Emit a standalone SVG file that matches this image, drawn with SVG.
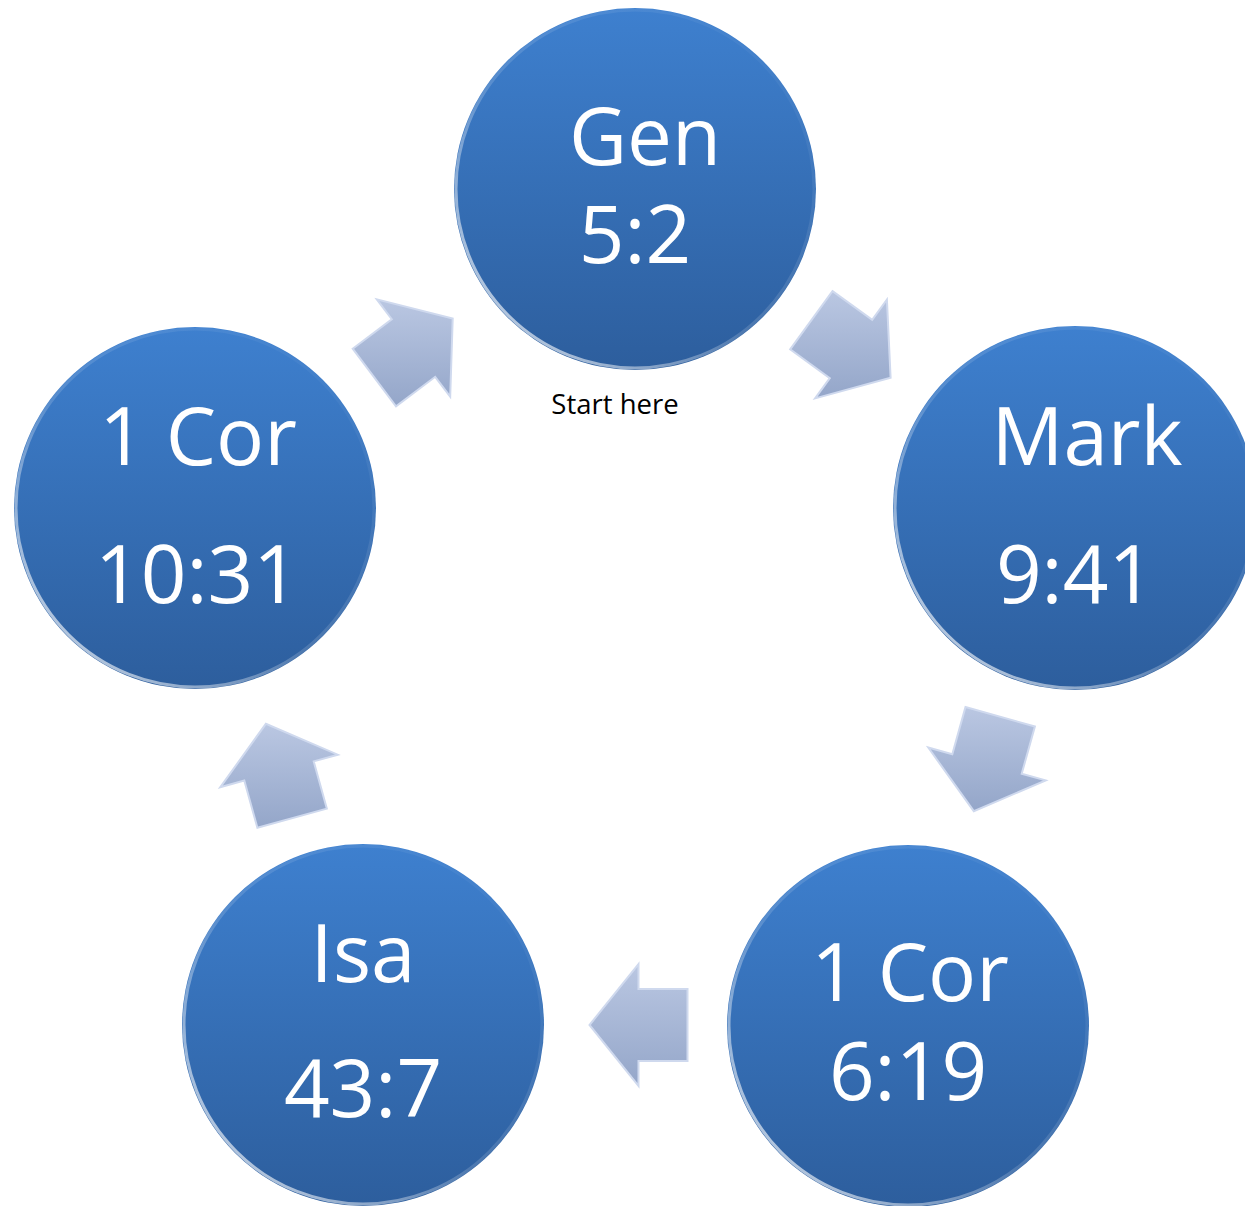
<svg xmlns="http://www.w3.org/2000/svg" width="1245" height="1206" viewBox="0 0 1245 1206">
<defs>
<linearGradient id="cfill" x1="0" y1="0" x2="0" y2="1">
<stop offset="0" stop-color="#3e80cf"/>
<stop offset="1" stop-color="#2d5e9d"/>
</linearGradient>
<linearGradient id="crim" x1="1" y1="0" x2="0" y2="1">
<stop offset="0" stop-color="#ffffff" stop-opacity="0"/>
<stop offset="0.55" stop-color="#ffffff" stop-opacity="0.15"/>
<stop offset="1" stop-color="#ffffff" stop-opacity="0.85"/>
</linearGradient>
<linearGradient id="afill" x1="0" y1="0" x2="0" y2="1">
<stop offset="0" stop-color="#bac7e2"/>
<stop offset="1" stop-color="#94a6c9"/>
</linearGradient>
<style>
.node circle.body{fill:url(#cfill);}
.node circle.rim{fill:none;stroke:url(#crim);stroke-width:3;}
.node text{font-family:"Open Sans","Noto Sans",sans-serif;font-size:80px;fill:#ffffff;text-anchor:middle;}
.arrow{fill:url(#afill);stroke:#cfd9ee;stroke-width:2;stroke-linejoin:miter;}
.label{font-family:"Open Sans","Noto Sans",sans-serif;font-size:27.5px;fill:#000000;text-anchor:middle;}
</style>
</defs>
<g id="connectors">
<polygon class="arrow" points="832.5,291.1 872.2,319.9 886.9,299.6 890.6,377.8 815.1,398.4 829.8,378.1 790.2,349.3"/>
<polygon class="arrow" points="1034.9,726.5 1021.7,773.7 1045.7,780.4 973.8,811.2 928.3,747.6 952.3,754.3 965.5,707.1"/>
<polygon class="arrow" points="687.5,1061 638.5,1061 638.5,1086 589.5,1025 638.5,964 638.5,989 687.5,989"/>
<polygon class="arrow" points="257.4,827.8 244.3,780.6 220.2,787.3 265.9,723.8 337.8,754.7 313.7,761.4 326.8,808.6"/>
<polygon class="arrow" points="352.7,348.7 391.8,319.2 376.8,299.3 452.7,318.5 450.2,396.7 435.2,376.8 396.0,406.3"/>
</g>
<g id="node-gen" class="node">
<circle class="body" cx="635" cy="189" r="181"/>
<circle class="rim" cx="635" cy="189" r="179"/>
<text x="645" y="165">Gen</text>
<text x="635" y="263">5:2</text>
</g>
<g id="node-mark" class="node">
<circle class="body" cx="1075" cy="508" r="182"/>
<circle class="rim" cx="1075" cy="508" r="180"/>
<text x="1087" y="465">Mark</text>
<text x="1075" y="603">9:41</text>
</g>
<g id="node-1cor619" class="node">
<circle class="body" cx="908" cy="1026" r="181"/>
<circle class="rim" cx="908" cy="1026" r="179"/>
<text x="910" y="1001">1 Cor</text>
<text x="908" y="1100">6:19</text>
</g>
<g id="node-isa" class="node">
<circle class="body" cx="363" cy="1025" r="181"/>
<circle class="rim" cx="363" cy="1025" r="179"/>
<text x="363" y="982">Isa</text>
<text x="363" y="1117">43:7</text>
</g>
<g id="node-1cor1031" class="node">
<circle class="body" cx="195" cy="508" r="181"/>
<circle class="rim" cx="195" cy="508" r="179"/>
<text x="198" y="465">1 Cor</text>
<text x="197" y="603">10:31</text>
</g>
<text id="start-label" class="label" x="615" y="414">Start here</text>
</svg>
